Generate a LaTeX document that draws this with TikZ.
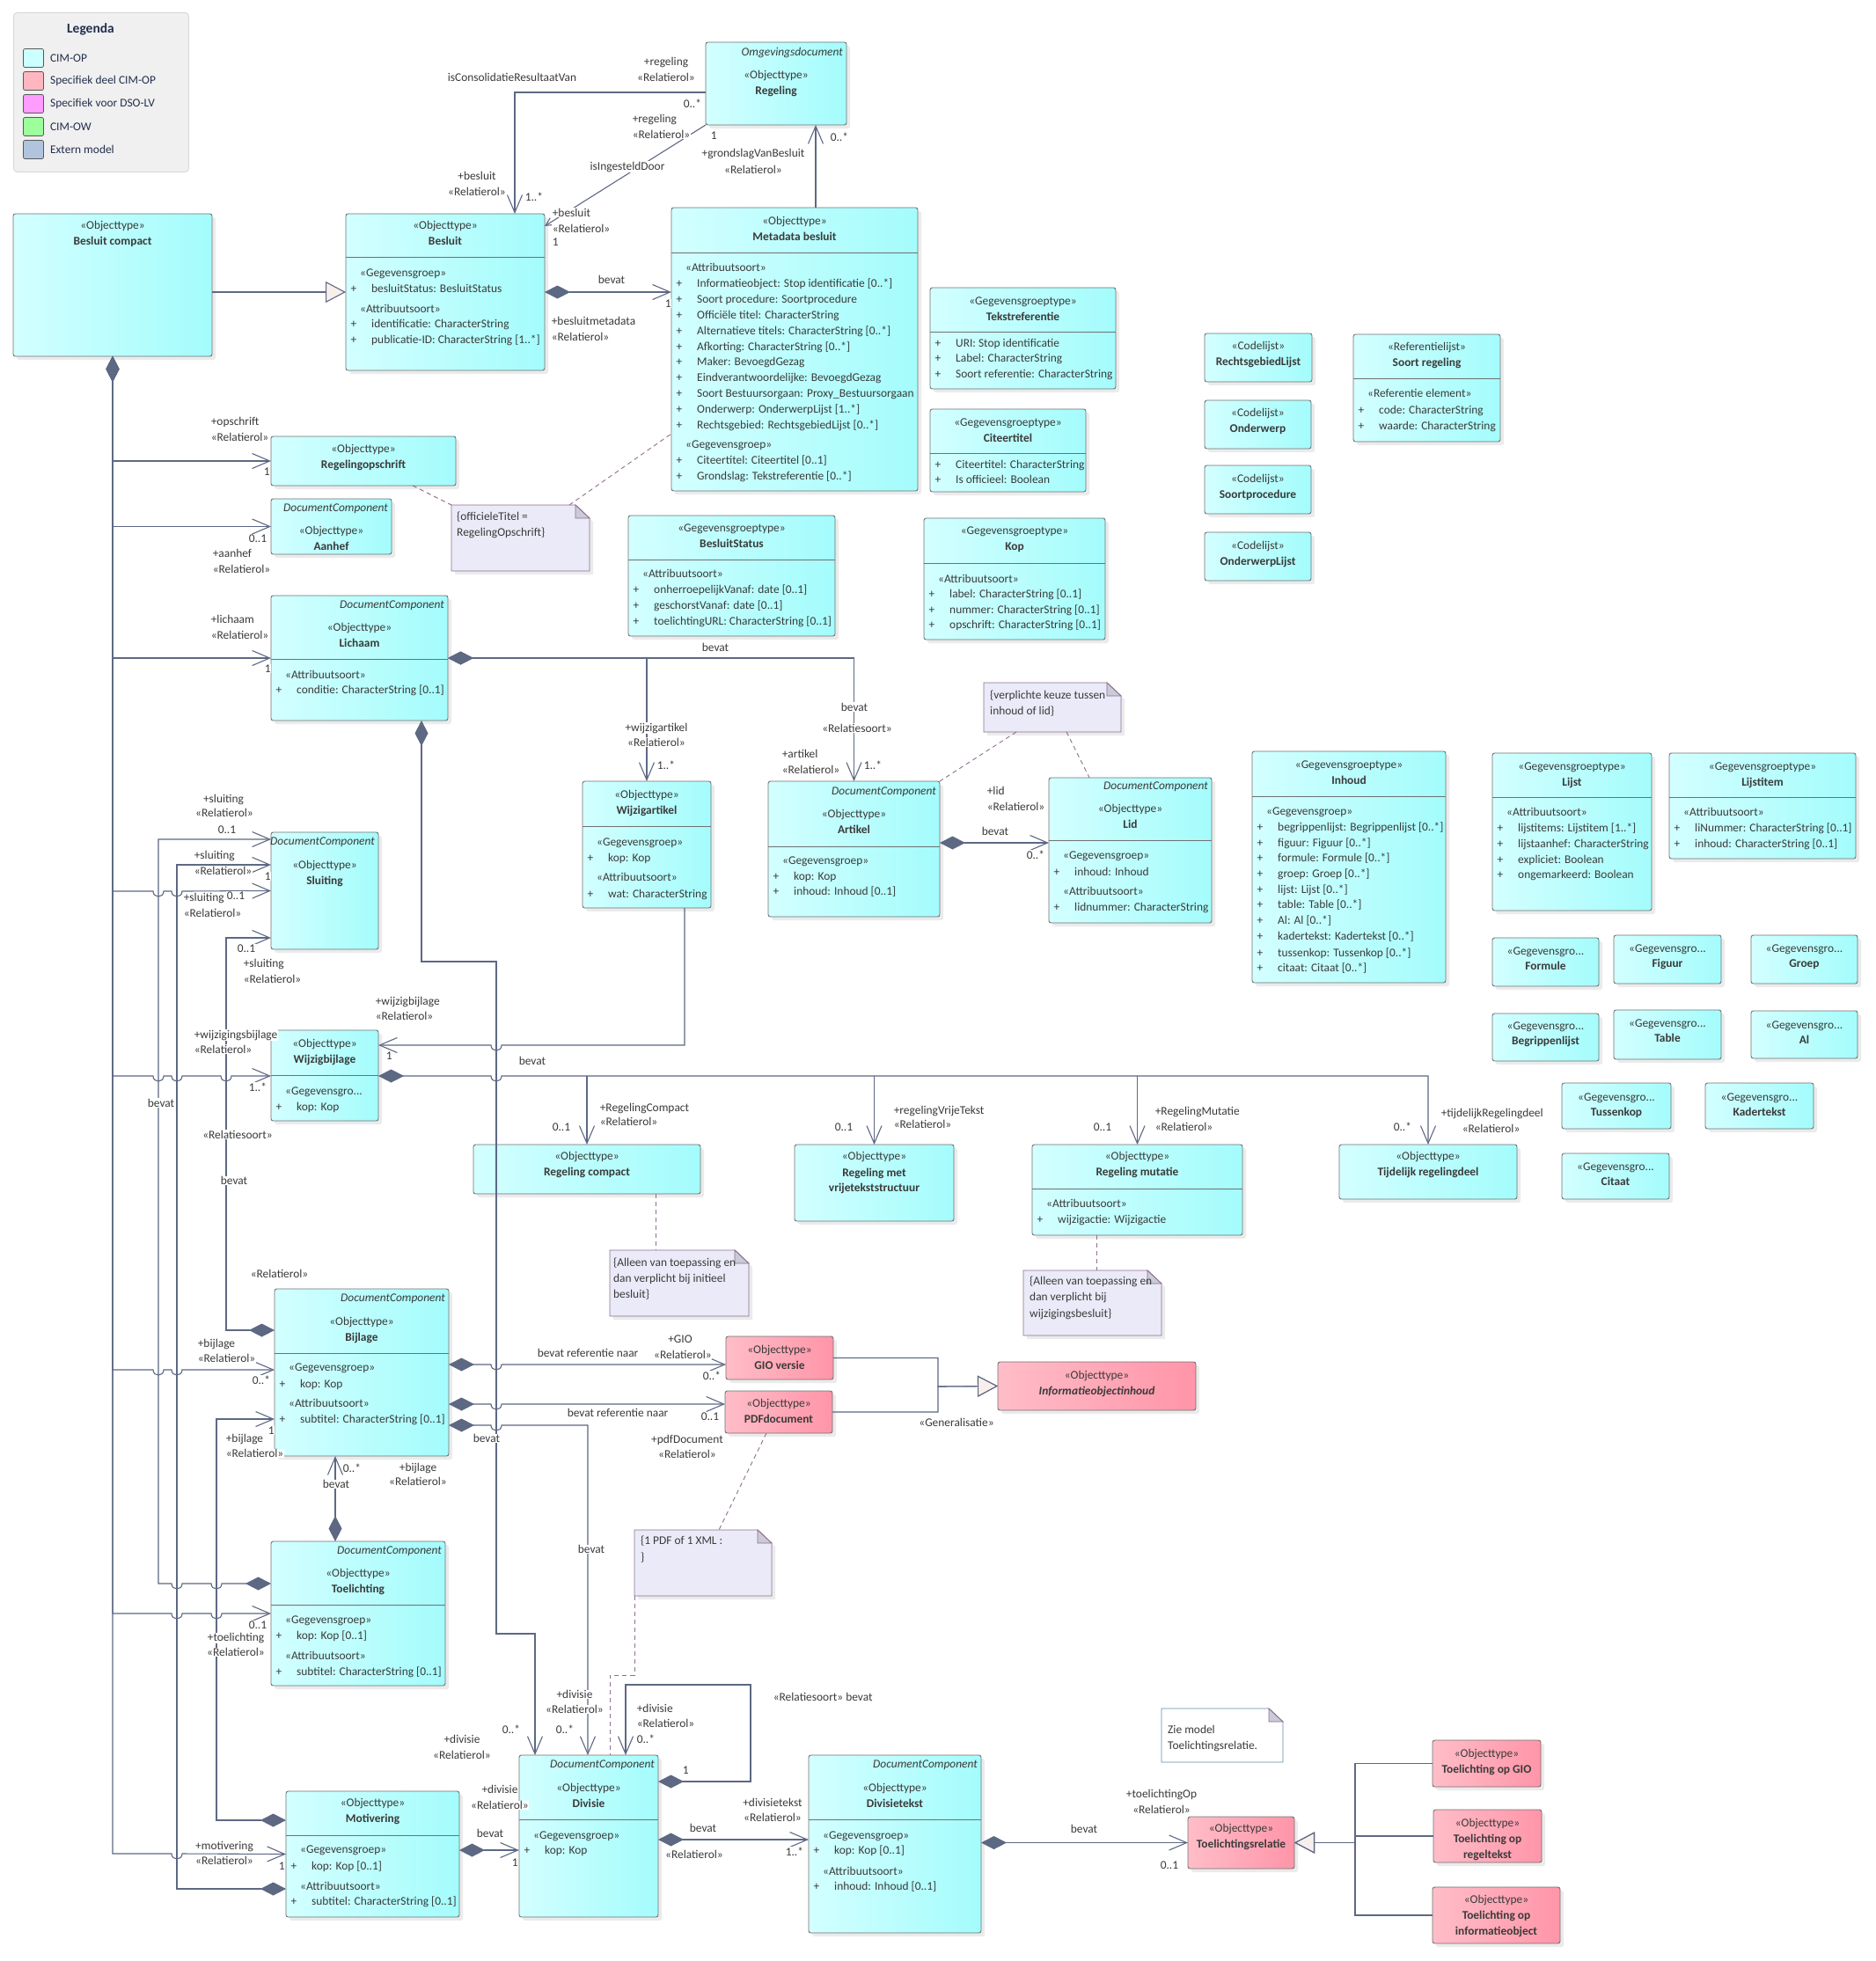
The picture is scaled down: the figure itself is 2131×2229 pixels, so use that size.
\documentclass[tikz,border=0pt]{standalone}
\usepackage{fontspec}
\setmainfont{Carlito}
\usetikzlibrary{positioning, arrows.meta, shadows}

\definecolor{cimA}{HTML}{D3FFFF}
\definecolor{cimB}{HTML}{A4FCFC}
\definecolor{pinkA}{HTML}{FFBDC8}
\definecolor{pinkB}{HTML}{FF95A8}
\definecolor{boxBd}{HTML}{707070}
\definecolor{lineC}{HTML}{5D6883}
\definecolor{txtC}{HTML}{3A3A3A}
\definecolor{noteFill}{HTML}{EAEAF8}
\definecolor{noteBd}{HTML}{8E6F8E}
\definecolor{foldC}{HTML}{CACAD8}
\definecolor{legFill}{HTML}{F0F0F0}
\definecolor{legBd}{HTML}{D6D6D6}
\definecolor{legTxt}{HTML}{23304D}
\definecolor{genFill}{HTML}{F8EFEC}
\definecolor{zieBd}{HTML}{5B8DA3}
\definecolor{legA}{HTML}{CCFFFF}
\definecolor{legB}{HTML}{FFB6C1}
\definecolor{legC}{HTML}{FF9CFF}
\definecolor{legD}{HTML}{9CFF9C}
\definecolor{legE}{HTML}{B0C4DE}

\newcommand\fs{\fontsize{13.4}{16}\selectfont}

\tikzset{
  box/.style={draw=boxBd, line width=0.9pt, rounded corners=2.5pt, inner sep=0pt, outer sep=0pt,
    anchor=north west, drop shadow={shadow xshift=4pt, shadow yshift=-4pt, fill=black!15}},
  cim/.style={left color=cimA, right color=cimB},
  pink/.style={left color=pinkA, right color=pinkB},
  txt/.style={anchor=mid, inner sep=0pt, text=txtC, font=\fs},
  nm/.style={txt, font=\fs\bfseries},
  dcs/.style={txt, anchor=mid east, xshift=-4pt, font=\fs\itshape},
  lbl/.style={anchor=mid, inner sep=0.6pt, fill=white, text=txtC, font=\fs},
  lbll/.style={lbl, anchor=mid west},
  conn/.style={draw=lineC, line width=1.1pt},
  assoc/.style={conn, -{Straight Barb[length=20pt,width=17pt]}},
  comp/.style={conn, {Diamond[length=29pt,width=15pt,fill=lineC]}-{Straight Barb[length=20pt,width=17pt]}},
  gen/.style={conn, -{Triangle[length=23pt,width=24pt,fill=genFill]}},
  notelink/.style={draw=noteBd, line width=0.9pt, dash pattern=on 5pt off 4pt},
  notebody/.style={draw=noteBd, fill=noteFill, line width=0.9pt,
    drop shadow={shadow xshift=4pt, shadow yshift=-4pt, fill=black!15}},
  ziebody/.style={draw=zieBd, fill=white, line width=0.9pt},
  notefold/.style={draw=noteBd, fill=foldC, line width=0.9pt},
  jr/.style 2 args={insert path={-- (#1-6,#2) .. controls (#1-6,#2+8) and (#1+6,#2+8) .. (#1+6,#2)}},
  jl/.style 2 args={insert path={-- (#1+6,#2) .. controls (#1+6,#2+8) and (#1-6,#2+8) .. (#1-6,#2)}},
  swatch/.style={draw=black!65, line width=0.8pt, rounded corners=2pt, minimum width=23pt,
    minimum height=21pt, inner sep=0pt},
  legtxt/.style={inner sep=0pt, text=legTxt, font=\fs},
}

% class box, header, compartments
\newcommand\umlbox[6][cim]{\node[box,#1,minimum width={#5-#3},minimum height={#6-#4}] (#2) at (#3,#4) {};}
\newcommand\umlsep[2]{\draw[draw=boxBd, line width=0.9pt] (#1.west |- 0,#2) -- (#1.east |- 0,#2);}
\newcommand\umlhead[4]{\node[txt] at (#1.north |- 0,#2) {«#3»};
  \node[nm] at (#1.north |- 0,#2+18) {#4};}
\newcommand\umldc[2]{\node[dcs] at (#1.east |- 0,#2) {DocumentComponent};}
\newcommand\umlgroup[3]{\node[txt,anchor=mid west,xshift=16pt] at (#1.west |- 0,#2) {«#3»};}
\newcommand\umlattr[3]{\node[txt,xshift=9pt] at (#1.west |- 0,#2) {+};
  \node[txt,anchor=mid west,xshift=29pt] at (#1.west |- 0,#2) {#3};}
\newcommand\umlnote[6][notebody]{%
  \node[inner sep=0pt,outer sep=0pt,anchor=north west,minimum width={#5-#3},minimum height={#6-#4}] (#2) at (#3,#4) {};
  \filldraw[#1] (#2.north west) -- ([xshift=-16pt]#2.north east) -- ([yshift=-15pt]#2.north east)
    -- (#2.south east) -- (#2.south west) -- cycle;
  \filldraw[notefold] ([xshift=-16pt]#2.north east) -- ([xshift=-16pt,yshift=-15pt]#2.north east)
    -- ([yshift=-15pt]#2.north east) -- cycle;}

\begin{document}
\begin{tikzpicture}[x=1pt, y=-1pt, font=\fs]
  \fill[white] (0,0) rectangle (2131,2229);
  \useasboundingbox (0,0) rectangle (2131,2229);

  % legenda
  \node[draw=legBd, fill=legFill, rounded corners=4pt, line width=0.8pt, anchor=north west,
        minimum width=199, minimum height=181, inner sep=0pt] (legenda) at (15,14) {};
  \node[font=\bfseries\fontsize{15.5}{17}\selectfont, text=legTxt, anchor=mid] (legtitel) at (103,35) {Legenda};
  \foreach \c/\t [count=\i] in {legA/CIM-OP, legB/Specifiek deel CIM-OP, legC/Specifiek voor DSO-LV, legD/CIM-OW, legE/Extern model}
  {
    \node[swatch, fill=\c] (sw\i) at (38,40+26*\i) {};
    \node[legtxt, right=7pt of sw\i] (lt\i) {\t};
  }

  % besluit
  \umlbox{bcompact}{15}{243}{241}{405}
  \umlhead{bcompact}{258}{Objecttype}{Besluit compact}

  \umlbox{besluit}{393}{243}{619}{421}
  \umlhead{besluit}{258}{Objecttype}{Besluit}
  \umlsep{besluit}{292}
  \umlgroup{besluit}{312}{Gegevensgroep}
  \umlattr{besluit}{330}{besluitStatus: BesluitStatus}
  \umlgroup{besluit}{353}{Attribuutsoort}
  \umlattr{besluit}{370}{identificatie: CharacterString}
  \umlattr{besluit}{388}{publicatie-ID: CharacterString [1..*]}

  \umlbox{regeling}{802}{48}{962}{142}
  \node[dcs] at (regeling.east |- 0,61) {Omgevingsdocument};
  \umlhead{regeling}{87}{Objecttype}{Regeling}

  \umlbox{metadata}{763}{236}{1043}{558}
  \umlhead{metadata}{253}{Objecttype}{Metadata besluit}
  \umlsep{metadata}{287}
  \umlgroup{metadata}{306}{Attribuutsoort}
  \umlattr{metadata}{324}{Informatieobject: Stop identificatie [0..*]}
  \umlattr{metadata}{342}{Soort procedure: Soortprocedure}
  \umlattr{metadata}{360}{Officiële titel: CharacterString}
  \umlattr{metadata}{378}{Alternatieve titels: CharacterString [0..*]}
  \umlattr{metadata}{396}{Afkorting: CharacterString [0..*]}
  \umlattr{metadata}{413}{Maker: BevoegdGezag}
  \umlattr{metadata}{431}{Eindverantwoordelijke: BevoegdGezag}
  \umlattr{metadata}{449}{Soort Bestuursorgaan: Proxy\_Bestuursorgaan}
  \umlattr{metadata}{467}{Onderwerp: OnderwerpLijst [1..*]}
  \umlattr{metadata}{485}{Rechtsgebied: RechtsgebiedLijst [0..*]}
  \umlgroup{metadata}{507}{Gegevensgroep}
  \umlattr{metadata}{525}{Citeertitel: Citeertitel [0..1]}
  \umlattr{metadata}{543}{Grondslag: Tekstreferentie [0..*]}

  \umlbox{tekstref}{1057}{327}{1268}{442}
  \umlhead{tekstref}{344}{Gegevensgroeptype}{Tekstreferentie}
  \umlsep{tekstref}{377}
  \umlattr{tekstref}{392}{URI: Stop identificatie}
  \umlattr{tekstref}{409}{Label: CharacterString}
  \umlattr{tekstref}{427}{Soort referentie: CharacterString}

  \umlbox{citeertitel}{1057}{465}{1234}{559}
  \umlhead{citeertitel}{482}{Gegevensgroeptype}{Citeertitel}
  \umlsep{citeertitel}{515}
  \umlattr{citeertitel}{530}{Citeertitel: CharacterString}
  \umlattr{citeertitel}{547}{Is officieel: Boolean}

  \umlbox{rgebied}{1369}{379}{1491}{434}
  \umlhead{rgebied}{395}{Codelijst}{RechtsgebiedLijst}
  \umlbox{onderwerp}{1369}{455}{1490}{510}
  \umlhead{onderwerp}{471}{Codelijst}{Onderwerp}
  \umlbox{sproc}{1369}{529}{1490}{584}
  \umlhead{sproc}{546}{Codelijst}{Soortprocedure}
  \umlbox{owlijst}{1369}{605}{1490}{660}
  \umlhead{owlijst}{622}{Codelijst}{OnderwerpLijst}

  \umlbox{sregeling}{1538}{380}{1705}{502}
  \umlhead{sregeling}{396}{Referentielijst}{Soort regeling}
  \umlsep{sregeling}{430}
  \umlgroup{sregeling}{449}{Referentie element}
  \umlattr{sregeling}{468}{code: CharacterString}
  \umlattr{sregeling}{486}{waarde: CharacterString}

  % regelingdelen
  \umlbox{ropschrift}{308}{496}{518}{552}
  \umlhead{ropschrift}{512}{Objecttype}{Regelingopschrift}

  \umlbox{aanhef}{308}{567}{445}{630}
  \umldc{aanhef}{579}
  \umlhead{aanhef}{605}{Objecttype}{Aanhef}

  \umlbox{bstatus}{714}{586}{949}{723}
  \umlhead{bstatus}{602}{Gegevensgroeptype}{BesluitStatus}
  \umlsep{bstatus}{636}
  \umlgroup{bstatus}{654}{Attribuutsoort}
  \umlattr{bstatus}{672}{onherroepelijkVanaf: date [0..1]}
  \umlattr{bstatus}{690}{geschorstVanaf: date [0..1]}
  \umlattr{bstatus}{708}{toelichtingURL: CharacterString [0..1]}

  \umlbox{kop}{1050}{589}{1256}{727}
  \umlhead{kop}{605}{Gegevensgroeptype}{Kop}
  \umlsep{kop}{640}
  \umlgroup{kop}{660}{Attribuutsoort}
  \umlattr{kop}{677}{label: CharacterString [0..1]}
  \umlattr{kop}{695}{nummer: CharacterString [0..1]}
  \umlattr{kop}{712}{opschrift: CharacterString [0..1]}

  \umlbox{lichaam}{308}{677}{509}{819}
  \umldc{lichaam}{689}
  \umlhead{lichaam}{715}{Objecttype}{Lichaam}
  \umlsep{lichaam}{749}
  \umlgroup{lichaam}{769}{Attribuutsoort}
  \umlattr{lichaam}{786}{conditie: CharacterString [0..1]}

  \umlbox{wijzigartikel}{662}{888}{808}{1032}
  \umlhead{wijzigartikel}{905}{Objecttype}{Wijzigartikel}
  \umlsep{wijzigartikel}{939}
  \umlgroup{wijzigartikel}{959}{Gegevensgroep}
  \umlattr{wijzigartikel}{977}{kop: Kop}
  \umlgroup{wijzigartikel}{999}{Attribuutsoort}
  \umlattr{wijzigartikel}{1018}{wat: CharacterString}

  \umlbox{artikel}{873}{888}{1068}{1042}
  \umldc{artikel}{901}
  \umlhead{artikel}{927}{Objecttype}{Artikel}
  \umlsep{artikel}{962}
  \umlgroup{artikel}{980}{Gegevensgroep}
  \umlattr{artikel}{998}{kop: Kop}
  \umlattr{artikel}{1015}{inhoud: Inhoud [0..1]}

  \umlbox{lid}{1192}{884}{1377}{1049}
  \umldc{lid}{895}
  \umlhead{lid}{921}{Objecttype}{Lid}
  \umlsep{lid}{955}
  \umlgroup{lid}{974}{Gegevensgroep}
  \umlattr{lid}{993}{inhoud: Inhoud}
  \umlgroup{lid}{1015}{Attribuutsoort}
  \umlattr{lid}{1033}{lidnummer: CharacterString}

  \umlbox{inhoud}{1423}{854}{1643}{1117}
  \umlhead{inhoud}{871}{Gegevensgroeptype}{Inhoud}
  \umlsep{inhoud}{905}
  \umlgroup{inhoud}{924}{Gegevensgroep}
  \umlattr{inhoud}{942}{begrippenlijst: Begrippenlijst [0..*]}
  \umlattr{inhoud}{960}{figuur: Figuur [0..*]}
  \umlattr{inhoud}{977}{formule: Formule [0..*]}
  \umlattr{inhoud}{995}{groep: Groep [0..*]}
  \umlattr{inhoud}{1013}{lijst: Lijst [0..*]}
  \umlattr{inhoud}{1030}{table: Table [0..*]}
  \umlattr{inhoud}{1048}{Al: Al [0..*]}
  \umlattr{inhoud}{1066}{kadertekst: Kadertekst [0..*]}
  \umlattr{inhoud}{1085}{tussenkop: Tussenkop [0..*]}
  \umlattr{inhoud}{1102}{citaat: Citaat [0..*]}

  \umlbox{lijst}{1696}{856}{1877}{1035}
  \umlhead{lijst}{873}{Gegevensgroeptype}{Lijst}
  \umlsep{lijst}{906}
  \umlgroup{lijst}{925}{Attribuutsoort}
  \umlattr{lijst}{943}{lijstitems: Lijstitem [1..*]}
  \umlattr{lijst}{961}{lijstaanhef: CharacterString}
  \umlattr{lijst}{979}{expliciet: Boolean}
  \umlattr{lijst}{996}{ongemarkeerd: Boolean}

  \umlbox{lijstitem}{1897}{856}{2109}{976}
  \umlhead{lijstitem}{873}{Gegevensgroeptype}{Lijstitem}
  \umlsep{lijstitem}{906}
  \umlgroup{lijstitem}{925}{Attribuutsoort}
  \umlattr{lijstitem}{943}{liNummer: CharacterString [0..1]}
  \umlattr{lijstitem}{961}{inhoud: CharacterString [0..1]}

  \umlbox{formule}{1696}{1066}{1817}{1121}
  \umlbox{figuur}{1834}{1063}{1956}{1118}
  \umlbox{groep}{1990}{1063}{2111}{1118}
  \umlbox{begrippen}{1696}{1152}{1817}{1206}
  \umlbox{table}{1834}{1148}{1956}{1204}
  \umlbox{al}{1990}{1149}{2111}{1203}
  \umlbox{tussenkop}{1775}{1231}{1899}{1283}
  \umlbox{kadertekst}{1938}{1231}{2061}{1283}
  \umlbox{citaat}{1775}{1311}{1897}{1363}
  \foreach \n/\t/\y in {formule/Formule/1083, figuur/Figuur/1080, groep/Groep/1080,
      begrippen/Begrippenlijst/1168, table/Table/1165, al/Al/1167,
      tussenkop/Tussenkop/1249, kadertekst/Kadertekst/1249, citaat/Citaat/1328}
  {
    \node[txt] at (\n.north |- 0,\y) {«Gegevensgro...};
    \node[nm] at (\n.north |- 0,\y+17) {\t};
  }

  \umlbox{sluiting}{308}{946}{430}{1079}
  \umldc{sluiting}{958}
  \umlhead{sluiting}{985}{Objecttype}{Sluiting}

  \umlbox{wijzigbijlage}{308}{1171}{430}{1274}
  \umlhead{wijzigbijlage}{1188}{Objecttype}{Wijzigbijlage}
  \umlsep{wijzigbijlage}{1222}
  \node[txt,anchor=mid west,xshift=16pt] at (wijzigbijlage.west |- 0,1242) {«Gegevensgro...};
  \umlattr{wijzigbijlage}{1260}{kop: Kop}

  \umlbox{rcompact}{538}{1301}{796}{1357}
  \umlhead{rcompact}{1316}{Objecttype}{Regeling compact}

  \umlbox{rvrij}{903}{1301}{1084}{1388}
  \node[txt] at (rvrij.north |- 0,1316) {«Objecttype»};
  \node[nm] at (rvrij.north |- 0,1335) {Regeling met};
  \node[nm] at (rvrij.north |- 0,1352) {vrijetekststructuur};

  \umlbox{rmutatie}{1173}{1301}{1412}{1404}
  \umlhead{rmutatie}{1316}{Objecttype}{Regeling mutatie}
  \umlsep{rmutatie}{1351}
  \umlgroup{rmutatie}{1370}{Attribuutsoort}
  \umlattr{rmutatie}{1388}{wijzigactie: Wijzigactie}

  \umlbox{tijdelijk}{1522}{1301}{1724}{1363}
  \umlhead{tijdelijk}{1316}{Objecttype}{Tijdelijk regelingdeel}

  \umlbox{bijlage}{312}{1465}{510}{1655}
  \umldc{bijlage}{1477}
  \umlhead{bijlage}{1504}{Objecttype}{Bijlage}
  \umlsep{bijlage}{1538}
  \umlgroup{bijlage}{1556}{Gegevensgroep}
  \umlattr{bijlage}{1575}{kop: Kop}
  \umlgroup{bijlage}{1597}{Attribuutsoort}
  \umlattr{bijlage}{1615}{subtitel: CharacterString [0..1]}

  \umlbox[pink]{gio}{825}{1519}{947}{1568}
  \umlhead{gio}{1536}{Objecttype}{GIO versie}
  \umlbox[pink]{pdf}{824}{1581}{946}{1629}
  \umlhead{pdf}{1597}{Objecttype}{PDFdocument}
  \umlbox[pink]{ioi}{1134}{1548}{1359}{1603}
  \node[txt] at (ioi.north |- 0,1565) {«Objecttype»};
  \node[nm,font=\fs\bfseries\itshape] at (ioi.north |- 0,1583) {Informatieobjectinhoud};

  \umlbox{toelichting}{308}{1752}{506}{1916}
  \umldc{toelichting}{1764}
  \umlhead{toelichting}{1790}{Objecttype}{Toelichting}
  \umlsep{toelichting}{1824}
  \umlgroup{toelichting}{1843}{Gegevensgroep}
  \umlattr{toelichting}{1861}{kop: Kop [0..1]}
  \umlgroup{toelichting}{1884}{Attribuutsoort}
  \umlattr{toelichting}{1902}{subtitel: CharacterString [0..1]}

  \umlbox{motivering}{325}{2036}{522}{2179}
  \umlhead{motivering}{2051}{Objecttype}{Motivering}
  \umlsep{motivering}{2086}
  \umlgroup{motivering}{2104}{Gegevensgroep}
  \umlattr{motivering}{2123}{kop: Kop [0..1]}
  \umlgroup{motivering}{2146}{Attribuutsoort}
  \umlattr{motivering}{2163}{subtitel: CharacterString [0..1]}

  \umlbox{divisie}{590}{1995}{748}{2179}
  \umldc{divisie}{2007}
  \umlhead{divisie}{2034}{Objecttype}{Divisie}
  \umlsep{divisie}{2068}
  \umlgroup{divisie}{2088}{Gegevensgroep}
  \umlattr{divisie}{2105}{kop: Kop}

  \umlbox{divisietekst}{919}{1995}{1115}{2197}
  \umldc{divisietekst}{2007}
  \umlhead{divisietekst}{2034}{Objecttype}{Divisietekst}
  \umlsep{divisietekst}{2068}
  \umlgroup{divisietekst}{2088}{Gegevensgroep}
  \umlattr{divisietekst}{2105}{kop: Kop [0..1]}
  \umlgroup{divisietekst}{2129}{Attribuutsoort}
  \umlattr{divisietekst}{2146}{inhoud: Inhoud [0..1]}

  \umlbox[pink]{toelrel}{1350}{2065}{1471}{2124}
  \umlhead{toelrel}{2080}{Objecttype}{Toelichtingsrelatie}
  \umlbox[pink]{toelgio}{1628}{1978}{1751}{2031}
  \umlhead{toelgio}{1995}{Objecttype}{Toelichting op GIO}
  \umlbox[pink]{toelregel}{1629}{2057}{1752}{2117}
  \node[txt] at (toelregel.north |- 0,2074) {«Objecttype»};
  \node[nm] at (toelregel.north |- 0,2092) {Toelichting op};
  \node[nm] at (toelregel.north |- 0,2110) {regeltekst};
  \umlbox[pink]{toelio}{1628}{2145}{1773}{2209}
  \node[txt] at (toelio.north |- 0,2161) {«Objecttype»};
  \node[nm] at (toelio.north |- 0,2179) {Toelichting op};
  \node[nm] at (toelio.north |- 0,2197) {informatieobject};

  % notities
  \umlnote{nopschrift}{513}{574}{670}{649}
  \node[txt,anchor=mid west] at (519,589) {\{officieleTitel =};
  \node[txt,anchor=mid west] at (519,607) {RegelingOpschrift\}};
  \umlnote{nkeuze}{1118}{776}{1274}{832}
  \node[txt,anchor=mid west] at (1125,792) {\{verplichte keuze tussen};
  \node[txt,anchor=mid west] at (1125,810) {inhoud of lid\}};
  \umlnote{ninit}{693}{1421}{851}{1496}
  \node[txt,anchor=mid west] at (697,1437) {\{Alleen van toepassing en};
  \node[txt,anchor=mid west] at (697,1455) {dan verplicht bij initieel};
  \node[txt,anchor=mid west] at (697,1473) {besluit\}};
  \umlnote{nwijz}{1163}{1444}{1320}{1518}
  \node[txt,anchor=mid west] at (1170,1458) {\{Alleen van toepassing en};
  \node[txt,anchor=mid west] at (1170,1476) {dan verplicht bij};
  \node[txt,anchor=mid west] at (1170,1495) {wijzigingsbesluit\}};
  \umlnote{npdf}{721}{1739}{877}{1814}
  \node[txt,anchor=mid west] at (728,1753) {\{1 PDF of 1 XML :};
  \node[txt,anchor=mid west] at (728,1772) {\}};
  \umlnote[ziebody]{nzie}{1320}{1942}{1458}{2003}
  \node[txt,anchor=mid west] at (1327,1968) {Zie model};
  \node[txt,anchor=mid west] at (1327,1986) {Toelichtingsrelatie.};

  % verbindingen besluit
  \draw[gen] (bcompact.east |- besluit.west) -- (besluit.west);
  \draw[comp] (besluit.east) -- (metadata.west |- besluit.east);
  \draw[assoc] (regeling.west |- 0,105) -| (besluit.north -| 585,0);
  \draw[conn, -{Straight Barb[length=9pt,width=9pt]}] (regeling.south west) -- ([yshift=-14pt]besluit.north east);
  \draw[assoc] (metadata.north -| 927,0) -- (regeling.south -| 927,0);

  % besluit compact
  \draw[comp] (bcompact.south) |- (ropschrift.west);
  \draw[comp] (bcompact.south) |- (aanhef.west);
  \draw[comp] (bcompact.south) |- (lichaam.west);
  \draw[comp] (bcompact.south) |- (150,1013) [jr={180}{1013}] [jr={201}{1013}] -- (sluiting.west);
  \draw[comp] (bcompact.south) |- (150,1223) [jr={180}{1223}] [jr={201}{1223}] [jr={257}{1223}] -- (wijzigbijlage.west |- 0,1223);
  \draw[comp] (bcompact.south) |- (150,1557) [jr={180}{1557}] [jr={201}{1557}] -- (bijlage.west |- 0,1557);
  \draw[comp] (bcompact.south) |- (150,1834) [jr={201}{1834}] [jr={246}{1834}] -- (toelichting.west);
  \draw[comp] (bcompact.south) |- (150,2107) [jr={201}{2107}] -- (motivering.west);

  % lichaam
  \draw[comp] (lichaam.east) -| (wijzigartikel.north);
  \draw[comp] (lichaam.east) -| (artikel.north);
  \draw[comp] (lichaam.south -| 479,0) |- (564,1093) |- (608,1857) -- (divisie.north -| 608,0);
  \draw[comp] (artikel.east |- 0,958) -- (lid.west |- 0,958);

  % sluiting
  \draw[comp] (toelichting.west |- 0,1800) [jl={246}{1800}] [jl={201}{1800}] -| (180,954) -- (sluiting.west |- 0,954);
  \draw[comp] (motivering.west |- 0,2147) -| (201,983) -- (sluiting.west |- 0,983);
  \draw[comp] (bijlage.west |- 0,1512) -| (257,1066) -- (sluiting.west |- 0,1066);

  % wijzigbijlage
  \draw[assoc] (wijzigartikel.south -| 778,0) |- (600,1188) [jl={564}{1188}] -- (wijzigbijlage.east |- 0,1188);
  \draw[comp] (wijzigbijlage.east |- 0,1223) [jr={564}{1223}] -| (tijdelijk.north);
  \draw[assoc] (rcompact.north |- 0,1223) -- (rcompact.north);
  \draw[assoc] (rvrij.north |- 0,1223) -- (rvrij.north);
  \draw[assoc] (rmutatie.north |- 0,1223) -- (rmutatie.north);

  % bijlage
  \draw[comp] (bijlage.east |- 0,1551) [jr={564}{1551}] -- (gio.west |- 0,1551);
  \draw[comp] (bijlage.east |- 0,1596) [jr={564}{1596}] -- (pdf.west |- 0,1596);
  \draw[comp] (bijlage.east |- 0,1620) [jr={564}{1620}] -| (divisie.north -| 668,0);
  \draw[gen] (gio.east) -| (1066,1576) -- (ioi.west);
  \draw[gen] (pdf.east) -| (1066,1576) -- (ioi.west);
  \draw[comp] (toelichting.north -| 381,0) -- (bijlage.south -| 381,0);
  \draw[comp] (motivering.west |- 0,2069) -| (246,1613) -- (bijlage.west |- 0,1613);

  % divisie
  \draw[comp] (motivering.east |- 0,2103) -- (divisie.west |- 0,2103);
  \draw[comp] (divisie.east |- 0,2025) -| (853,1915) -| (divisie.north -| 711,0);
  \draw[comp] (divisie.east |- 0,2091) -- (divisietekst.west |- 0,2091);
  \draw[comp] (divisietekst.east |- toelrel.west) -- (toelrel.west);
  \draw[gen] (toelgio.west) -| ([xshift=69pt]toelrel.east) -- (toelrel.east);
  \draw[gen] (toelregel.west) -| ([xshift=69pt]toelrel.east) -- (toelrel.east);
  \draw[gen] (toelio.west) -| ([xshift=69pt]toelrel.east) -- (toelrel.east);

  % notitie-lijnen
  \draw[notelink] (ropschrift.south -| 469,0) -- (nopschrift.north west);
  \draw[notelink] (nopschrift.north -| 647,0) -- (metadata.west |- 0,493);
  \draw[notelink] (nkeuze.south -| 1155,0) -- (artikel.north east);
  \draw[notelink] (nkeuze.south -| 1212,0) -- (lid.north -| 1238,0);
  \draw[notelink] (rcompact.south -| 745,0) -- (ninit.north -| 745,0);
  \draw[notelink] (rmutatie.south -| 1246,0) -- (nwijz.north -| 1246,0);
  \draw[notelink] (pdf.south -| 871,0) -- (npdf.north -| 817,0);
  \draw[notelink] (npdf.south west) |- (693,1904) -- (divisie.north -| 693,0);

  % labels boven
  \node[lbll] at (508,90) {isConsolidatieResultaatVan};
  \node[lbl] at (757,72) {+regeling};
  \node[lbl] at (757,90) {«Relatierol»};
  \node[lbll] at (776,120) {0..*};
  \node[lbll] at (718,137) {+regeling};
  \node[lbll] at (718,155) {«Relatierol»};
  \node[lbll] at (807,156) {1};
  \node[lbl] at (713,191) {isIngesteldDoor};
  \node[lbl] at (856,176) {+grondslagVanBesluit};
  \node[lbl] at (856,195) {«Relatierol»};
  \node[lbll] at (943,158) {0..*};
  \node[lbl] at (542,202) {+besluit};
  \node[lbl] at (542,220) {«Relatierol»};
  \node[lbll] at (596,226) {1..*};
  \node[lbll] at (627,244) {+besluit};
  \node[lbll] at (627,262) {«Relatierol»};
  \node[lbll] at (627,277) {1};
  \node[lbl] at (695,320) {bevat};
  \node[lbll] at (755,347) {1};
  \node[lbll] at (626,367) {+besluitmetadata};
  \node[lbll] at (626,385) {«Relatierol»};

  % labels links
  \node[lbll] at (239,481) {+opschrift};
  \node[lbll] at (239,499) {«Relatierol»};
  \node[lbll] at (299,538) {1};
  \node[lbll] at (282,614) {0..1};
  \node[lbll] at (241,631) {+aanhef};
  \node[lbll] at (241,649) {«Relatierol»};
  \node[lbll] at (239,706) {+lichaam};
  \node[lbll] at (239,724) {«Relatierol»};
  \node[lbll] at (300,762) {1};
  \node[lbl] at (813,738) {bevat};
  \node[lbl] at (746,829) {+wijzigartikel};
  \node[lbl] at (746,846) {«Relatierol»};
  \node[lbll] at (746,872) {1..*};
  \node[lbl] at (971,806) {bevat};
  \node[lbl] at (974,830) {«Relatiesoort»};
  \node[lbll] at (888,859) {+artikel};
  \node[lbll] at (888,877) {«Relatierol»};
  \node[lbll] at (981,872) {1..*};
  \node[lbll] at (1121,901) {+lid};
  \node[lbll] at (1121,919) {«Relatierol»};
  \node[lbll] at (1115,947) {bevat};
  \node[lbll] at (1166,974) {0..*};

  \node[lbl] at (254,910) {+sluiting};
  \node[lbl] at (255,926) {«Relatierol»};
  \node[lbll] at (247,945) {0..1};
  \node[lbll] at (220,974) {+sluiting};
  \node[lbll] at (220,992) {«Relatierol»};
  \node[lbll] at (300,998) {1};
  \node[lbll] at (208,1022) {+sluiting};
  \node[lbll] at (208,1040) {«Relatierol»};
  \node[lbll] at (257,1020) {0..1};
  \node[lbll] at (269,1080) {0..1};
  \node[lbll] at (276,1097) {+sluiting};
  \node[lbll] at (276,1115) {«Relatierol»};

  \node[lbll] at (426,1140) {+wijzigbijlage};
  \node[lbll] at (426,1157) {«Relatierol»};
  \node[lbll] at (438,1202) {1};
  \node[lbll] at (220,1178) {+wijzigingsbijlage};
  \node[lbll] at (220,1195) {«Relatierol»};
  \node[lbll] at (282,1238) {1..*};
  \node[lbll] at (589,1208) {bevat};
  \node[lbl] at (183,1256) {bevat};
  \node[lbl] at (270,1292) {«Relatiesoort»};
  \node[lbl] at (266,1344) {bevat};
  \node[lbll] at (284,1450) {«Relatierol»};

  % labels regelingen
  \node[lbll] at (627,1283) {0..1};
  \node[lbll] at (681,1261) {+RegelingCompact};
  \node[lbll] at (681,1277) {«Relatierol»};
  \node[lbll] at (948,1283) {0..1};
  \node[lbll] at (1015,1264) {+regelingVrijeTekst};
  \node[lbll] at (1015,1280) {«Relatierol»};
  \node[lbll] at (1242,1283) {0..1};
  \node[lbll] at (1312,1265) {+RegelingMutatie};
  \node[lbll] at (1312,1283) {«Relatierol»};
  \node[lbll] at (1583,1283) {0..*};
  \node[lbll] at (1637,1267) {+tijdelijkRegelingdeel};
  \node[lbll] at (1661,1285) {«Relatierol»};

  % labels bijlage
  \node[lbll] at (224,1529) {+bijlage};
  \node[lbll] at (224,1546) {«Relatierol»};
  \node[lbll] at (286,1571) {0..*};
  \node[lbll] at (304,1628) {1};
  \node[lbll] at (256,1637) {+bijlage};
  \node[lbll] at (256,1654) {«Relatierol»};
  \node[lbll] at (610,1540) {bevat referentie naar};
  \node[lbl] at (773,1524) {+GIO};
  \node[lbl] at (776,1542) {«Relatierol»};
  \node[lbll] at (798,1566) {0..*};
  \node[lbll] at (644,1608) {bevat referentie naar};
  \node[lbll] at (796,1612) {0..1};
  \node[lbll] at (537,1637) {bevat};
  \node[lbl] at (1087,1619) {«Generalisatie»};
  \node[lbl] at (781,1638) {+pdfDocument};
  \node[lbl] at (781,1655) {«Relatierol»};

  % labels onder
  \node[lbll] at (389,1671) {0..*};
  \node[lbl] at (382,1689) {bevat};
  \node[lbl] at (475,1670) {+bijlage};
  \node[lbl] at (475,1686) {«Relatierol»};
  \node[lbll] at (282,1849) {0..1};
  \node[lbl] at (268,1863) {+toelichting};
  \node[lbl] at (268,1880) {«Relatierol»};
  \node[lbl] at (255,2100) {+motivering};
  \node[lbl] at (255,2117) {«Relatierol»};
  \node[lbll] at (316,2123) {1};
  \node[lbl] at (557,2086) {bevat};
  \node[lbll] at (581,2119) {1};
  \node[lbl] at (568,2036) {+divisie};
  \node[lbl] at (568,2054) {«Relatierol»};
  \node[lbl] at (525,1979) {+divisie};
  \node[lbl] at (525,1997) {«Relatierol»};
  \node[lbll] at (570,1968) {0..*};
  \node[lbl] at (653,1928) {+divisie};
  \node[lbl] at (653,1945) {«Relatierol»};
  \node[lbll] at (631,1968) {0..*};
  \node[lbl] at (672,1763) {bevat};
  \node[lbll] at (723,1944) {+divisie};
  \node[lbll] at (723,1961) {«Relatierol»};
  \node[lbll] at (723,1979) {0..*};
  \node[lbll] at (775,2014) {1};
  \node[lbll] at (878,1931) {«Relatiesoort» bevat};
  \node[lbl] at (799,2080) {bevat};
  \node[lbl] at (789,2110) {«Relatierol»};
  \node[lbl] at (878,2051) {+divisietekst};
  \node[lbl] at (878,2068) {«Relatierol»};
  \node[lbll] at (892,2107) {1..*};
  \node[lbl] at (1232,2081) {bevat};
  \node[lbl] at (1320,2041) {+toelichtingOp};
  \node[lbl] at (1320,2059) {«Relatierol»};
  \node[lbll] at (1318,2122) {0..1};
\end{tikzpicture}
\end{document}
